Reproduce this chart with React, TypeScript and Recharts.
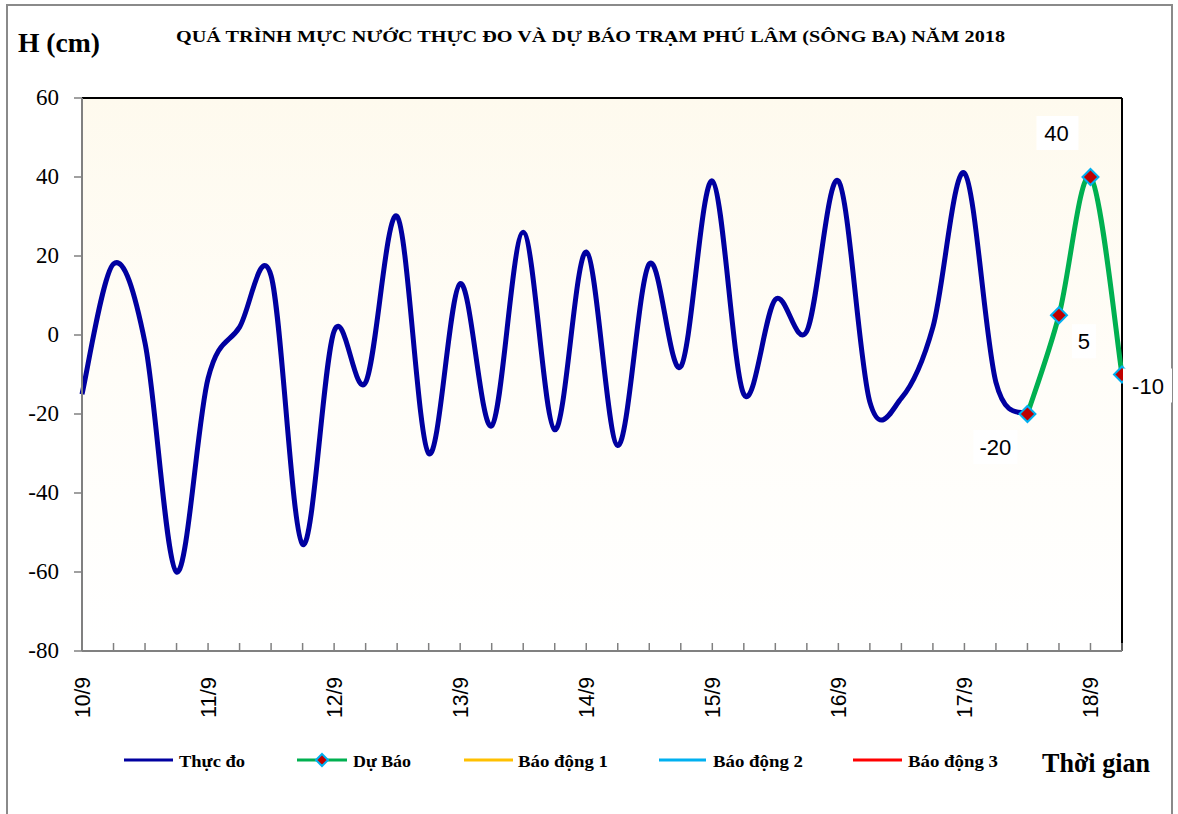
import React from 'react';
import { LineChart, Line, XAxis, YAxis, CartesianGrid, ReferenceLine } from 'recharts';

// 6-hourly water level (cm), from 10/9 00h
const observed = [
  -15, 18, -2, -60, -11, 2, 15, -53, 1, -12, 30, -30, 13, -23, 26, -24, 21, -28, 18, -8,
  39, -15, 9, 1, 39, -17, -16, 2, 41, -12, -20,
];
const forecastStart = 30;
const forecast = [-20, 5, 40, -10];
const dayLabels = ['10/9', '11/9', '12/9', '13/9', '14/9', '15/9', '16/9', '17/9', '18/9'];
const yTicks = [-80, -60, -40, -20, 0, 20, 40, 60];
const legendItems = ['Thực đo', 'Dự Báo', 'Báo động 1', 'Báo động 2', 'Báo động 3'];

const N = forecastStart + forecast.length; // 34 points
const data = Array.from({ length: N }, (_, i) => ({
  i,
  obs: i < observed.length ? observed[i] : null,
  fc: i >= forecastStart ? forecast[i - forecastStart] : null,
}));
const xTicks = data.map((d) => d.i);

const SERIF = '"Liberation Serif", "Times New Roman", serif';
const SANS = '"Liberation Sans", Arial, sans-serif';

// Excel-like smoothing (Catmull-Rom as cubic Bezier)
function excelCurve(context: any) {
  let pts: number[][] = [];
  return {
    areaStart() {},
    areaEnd() {},
    lineStart() {
      pts = [];
    },
    point(x: number, y: number) {
      pts.push([+x, +y]);
    },
    lineEnd() {
      const n = pts.length;
      if (!n) return;
      context.moveTo(pts[0][0], pts[0][1]);
      if (n === 1) return;
      for (let k = 0; k < n - 1; k++) {
        const p0 = pts[Math.max(0, k - 1)];
        const p1 = pts[k];
        const p2 = pts[k + 1];
        const p3 = pts[Math.min(n - 1, k + 2)];
        context.bezierCurveTo(
          p1[0] + (p2[0] - p0[0]) / 6,
          p1[1] + (p2[1] - p0[1]) / 6,
          p2[0] - (p3[0] - p1[0]) / 6,
          p2[1] - (p3[1] - p1[1]) / 6,
          p2[0],
          p2[1]
        );
      }
    },
  };
}

// label placement (style): [dx, dy, boxLeft, boxRight] relative to point
const labelPlacement: [number, number, number, number][] = [
  [-32, 33, -54, -10],
  [25, 26, 13, 37],
  [-34, -44, -54, -12],
  [26, 11, 1, 50],
];

const XTick = (props: any) => {
  const { x, y, payload } = props;
  const i = payload.value;
  const label = i % 4 === 0 ? dayLabels[i / 4] : null;
  const tx = x + 8;
  const ty = y + 26;
  return (
    <g>
      <line x1={x} y1={y} x2={x} y2={y - 8} stroke="#808080" strokeWidth={1.5} />
      {label && (
        <text
          x={tx}
          y={ty}
          transform={`rotate(-90 ${tx} ${ty})`}
          textAnchor="end"
          fontFamily={SANS}
          fontSize={22}
          textLength={41}
          lengthAdjust="spacingAndGlyphs"
          fill="#000"
        >
          {label}
        </text>
      )}
    </g>
  );
};

const YTick = (props: any) => {
  const { x, y, payload } = props;
  return (
    <text x={x} y={y + 7} textAnchor="end" fontFamily={SERIF} fontSize={23} fill="#000">
      {payload.value}
    </text>
  );
};

const ForecastDot = (props: any) => {
  const { cx, cy, payload, index } = props;
  if (cx == null || cy == null || payload == null || payload.fc == null) return <g key={`d${index}`} />;
  const k = payload.i - forecastStart;
  const r = 8;
  const [dx, dy, bl, br] = labelPlacement[k] || [0, -20, -15, 15];
  const txt = String(payload.fc);
  return (
    <g key={`d${index}`}>
      <polygon
        points={`${cx},${cy - r} ${cx + r},${cy} ${cx},${cy + r} ${cx - r},${cy}`}
        fill="#C00000"
        stroke="#00B0F0"
        strokeWidth={2}
      />
      <rect x={cx + bl} y={cy + dy - 17} width={br - bl} height={34} fill="#fff" />
      <text
        x={cx + dx}
        y={cy + dy + 8}
        textAnchor="middle"
        fontFamily={SANS}
        fontSize={22}
        fill="#000"
      >
        {txt}
      </text>
    </g>
  );
};

const legendLineColors = ['#0000A0', '#00B050', '#FFC000', '#00B0F0', '#FF0000'];
const legendLine: [number, number][] = [
  [124, 173],
  [297, 347],
  [464, 513],
  [659, 706],
  [853, 902],
];
const legendText: [number, number][] = [
  [179, 66],
  [353, 58],
  [518, 90],
  [713, 90],
  [908, 90],
];

export default function App() {
  return (
    <div
      style={{
        position: 'absolute',
        left: 0,
        top: 0,
        width: 1178,
        height: 814,
        overflow: 'hidden',
        background: '#fff',
      }}
    >
      <div
        style={{
          position: 'absolute',
          left: 6,
          top: 4,
          width: 1167,
          height: 840,
          boxSizing: 'border-box',
          border: '2px solid #8a8a8a',
        }}
      />
      <div style={{ position: 'absolute', left: 0, top: 0 }}>
        <LineChart
          width={1178}
          height={814}
          data={data}
          margin={{ top: 98, right: 56, bottom: 83, left: 0 }}
        >
          <defs>
            <linearGradient id="plotBg" x1="0" y1="0" x2="0" y2="1">
              <stop offset="0%" stopColor="#FEFAEE" />
              <stop offset="50%" stopColor="#FFFDF8" />
              <stop offset="100%" stopColor="#FFFFFF" />
            </linearGradient>
          </defs>
          <CartesianGrid horizontal={false} vertical={false} fill="url(#plotBg)" />
          <XAxis
            type="number"
            dataKey="i"
            domain={[0, N - 1]}
            ticks={xTicks}
            interval={0}
            tick={<XTick />}
            tickLine={false}
            tickSize={0}
            tickMargin={0}
            height={80}
            axisLine={{ stroke: '#808080', strokeWidth: 2 }}
          />
          <YAxis
            type="number"
            domain={[-80, 60]}
            ticks={yTicks}
            interval={0}
            width={82}
            tickSize={8}
            tickMargin={15}
            axisLine={{ stroke: '#808080', strokeWidth: 2 }}
            tickLine={{ stroke: '#808080', strokeWidth: 1.5 }}
            tick={<YTick />}
          />
          <ReferenceLine y={60} stroke="#000" strokeWidth={2} />
          <ReferenceLine x={N - 1} stroke="#000" strokeWidth={2} />
          <Line
            dataKey="obs"
            type={excelCurve as any}
            stroke="#0000A0"
            strokeWidth={5}
            dot={false}
            activeDot={false}
            isAnimationActive={false}
            connectNulls={false}
          />
          <Line
            dataKey="fc"
            type={excelCurve as any}
            stroke="#00B050"
            strokeWidth={5}
            dot={<ForecastDot />}
            activeDot={false}
            isAnimationActive={false}
            connectNulls={false}
          />
        </LineChart>
      </div>
      <svg
        width={1178}
        height={814}
        style={{ position: 'absolute', left: 0, top: 0, pointerEvents: 'none' }}
      >
        <text x={18} y={52} fontFamily={SERIF} fontWeight="bold" fontSize={27} textLength={82} lengthAdjust="spacingAndGlyphs">
          H (cm)
        </text>
        <text x={176} y={42} fontFamily={SERIF} fontWeight="bold" fontSize={17} textLength={829} lengthAdjust="spacingAndGlyphs">
          QUÁ TRÌNH MỰC NƯỚC THỰC ĐO VÀ DỰ BÁO TRẠM PHÚ LÂM (SÔNG BA) NĂM 2018
        </text>
        {legendItems.map((name, k) => (
          <g key={name}>
            <line
              x1={legendLine[k][0]}
              x2={legendLine[k][1]}
              y1={760}
              y2={760}
              stroke={legendLineColors[k]}
              strokeWidth={3}
            />
            {k === 1 && (
              <polygon
                points={`${(legendLine[k][0] + legendLine[k][1]) / 2},${754} ${(legendLine[k][0] + legendLine[k][1]) / 2 + 6},${760} ${(legendLine[k][0] + legendLine[k][1]) / 2},${766} ${(legendLine[k][0] + legendLine[k][1]) / 2 - 6},${760}`}
                fill="#C00000"
                stroke="#00B0F0"
                strokeWidth={2}
              />
            )}
            <text
              x={legendText[k][0]}
              y={767}
              fontFamily={SERIF}
              fontWeight="bold"
              fontSize={17}
              textLength={legendText[k][1]}
              lengthAdjust="spacingAndGlyphs"
            >
              {name}
            </text>
          </g>
        ))}
        <text x={1042} y={772} fontFamily={SERIF} fontWeight="bold" fontSize={27} textLength={108} lengthAdjust="spacingAndGlyphs">
          Thời gian
        </text>
      </svg>
    </div>
  );
}
